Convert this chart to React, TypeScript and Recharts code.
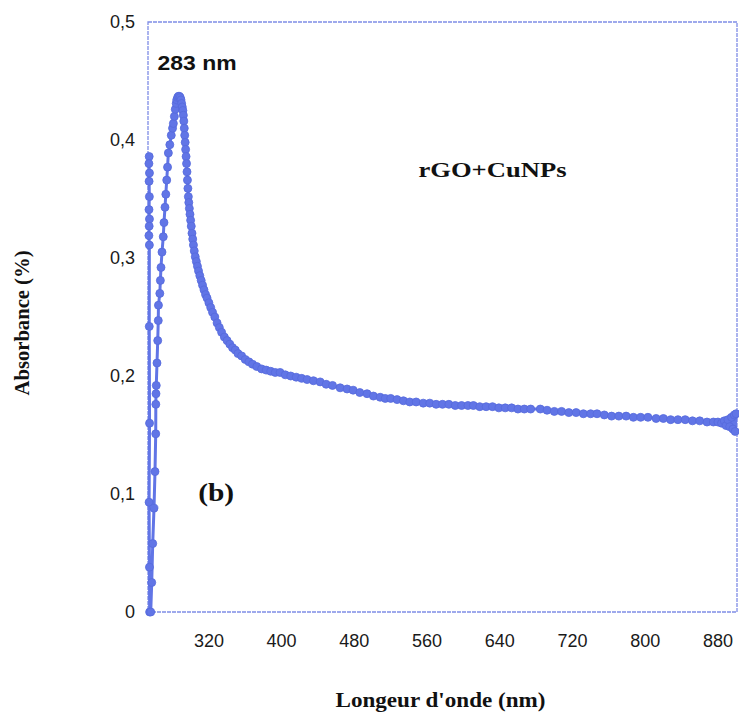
import React from 'react';
import { LineChart, Line, XAxis, YAxis, ReferenceArea, ReferenceDot } from 'recharts';

// Wavelength (nm) and absorbance (strand near axis, rising edge, peak, tail)
const wavelengths = [
  254.3, 254.0, 254.6, 254.2, 254.5, 254.1, 254.6, 254.3, 254.0, 254.5, 254.4, 254.7, 254.2, 254.6, 254.8,
  256.0, 257.1, 258.2, 259.6, 260.7, 261.5, 261.6, 261.8, 262.1, 262.9, 263.7, 264.3, 264.5, 266.0, 266.6,
  267.3, 268.4, 269.8, 270.6, 271.7, 272.6, 273.6, 274.5, 275.4, 277.0, 278.6, 280.0, 280.9, 282.0, 283.0,
  284.0, 284.6, 285.6, 286.5, 287.5, 288.5, 289.3, 290.0, 290.7, 291.4, 291.9, 292.4, 292.9, 293.4, 293.9,
  294.4, 294.9, 295.4, 295.9, 296.4, 296.9, 297.4, 297.9, 298.5, 299.2, 299.9, 300.6, 301.4, 302.2, 303.0,
  303.9, 305.0, 306.2, 307.4, 308.6, 310.0, 311.5, 313.0, 314.6, 316.3, 318.0, 320.0, 322.0, 324.0, 326.5,
  329.0, 331.5, 334.0, 337.0, 340.0, 343.0, 346.0, 349.0, 352.0, 356.0, 360.0, 364.0, 368.0, 372.7, 378.0,
  383.0, 388.0, 393.0, 398.3, 404.0, 410.0, 416.0, 422.0, 428.0, 435.0, 442.4, 449.0, 456.0, 464.4, 472.0,
  478.7, 486.0, 494.0, 501.0, 508.4, 514.0, 520.0, 527.0, 534.0, 541.0, 548.0, 555.8, 563.0, 570.0, 577.0,
  584.0, 591.0, 598.0, 605.0, 611.0, 618.0, 625.0, 632.0, 639.0, 646.0, 653.0, 660.0, 667.0, 674.0, 684.6,
  692.0, 700.0, 708.0, 716.0, 724.0, 732.0, 740.0, 747.0, 755.0, 763.0, 771.0, 779.0, 787.0, 795.0, 803.0,
  812.0, 820.0, 828.0, 836.0, 844.0, 852.0, 860.0, 868.0, 875.0, 880.0, 884.0, 887.0, 889.0, 891.0, 893.0,
  895.0, 896.5, 898.0, 899.0, 900.0,
];

const absorbance = [
  0.386, 0.380, 0.372, 0.365, 0.352, 0.341, 0.333, 0.327, 0.319, 0.311, 0.242, 0.160, 0.093, 0.038, 0.0,
  0.0, 0.025, 0.058, 0.088, 0.119, 0.151, 0.176, 0.185, 0.192, 0.211, 0.230, 0.247, 0.260, 0.270, 0.281,
  0.292, 0.305, 0.318, 0.330, 0.343, 0.354, 0.366, 0.377, 0.389, 0.396, 0.404, 0.410, 0.414, 0.420, 0.426,
  0.431, 0.434, 0.436, 0.437, 0.437, 0.436, 0.434, 0.431, 0.428, 0.425, 0.421, 0.416, 0.410, 0.404, 0.398,
  0.392, 0.386, 0.380, 0.373, 0.366, 0.359, 0.352, 0.347, 0.342, 0.337, 0.332, 0.327, 0.321, 0.316, 0.311,
  0.306, 0.301, 0.297, 0.293, 0.289, 0.285, 0.281, 0.277, 0.273, 0.269, 0.266, 0.262, 0.258, 0.254, 0.250,
  0.245, 0.241, 0.237, 0.233, 0.230, 0.227, 0.224, 0.222, 0.219, 0.217, 0.214, 0.212, 0.210, 0.208, 0.206,
  0.205, 0.204, 0.203, 0.203, 0.201, 0.200, 0.199, 0.198, 0.197, 0.196, 0.195, 0.193, 0.192, 0.190, 0.189,
  0.188, 0.186, 0.185, 0.183, 0.182, 0.181, 0.181, 0.180, 0.179, 0.178, 0.178, 0.177, 0.177, 0.176, 0.176,
  0.176, 0.175, 0.175, 0.175, 0.175, 0.174, 0.174, 0.174, 0.173, 0.173, 0.173, 0.172, 0.172, 0.172, 0.172,
  0.171, 0.170, 0.170, 0.169, 0.169, 0.168, 0.168, 0.168, 0.167, 0.166, 0.166, 0.166, 0.165, 0.165, 0.165,
  0.164, 0.164, 0.163, 0.163, 0.163, 0.162, 0.162, 0.161, 0.161, 0.161, 0.160, 0.162, 0.158, 0.163, 0.157,
  0.165, 0.155, 0.167, 0.153, 0.168,
];

const xTicks = [320, 400, 480, 560, 640, 720, 800, 880];
const yTicks = [0, 0.1, 0.2, 0.3, 0.4, 0.5];
const xDomain = [253, 901];
const yDomain = [0, 0.5];

const annotations = [
  { text: '283 nm', wl: 307, abs: 0.466, family: 'Liberation Sans, Arial, sans-serif', size: 21, length: 79 },
  { text: 'rGO+CuNPs', wl: 632, abs: 0.375, family: 'Liberation Serif, Times New Roman, serif', size: 20, length: 148 },
  { text: '(b)', wl: 328, abs: 0.101, family: 'Liberation Serif, Times New Roman, serif', size: 26, length: 36 },
];

const data = wavelengths.map((wl, i) => ({ wl, abs: absorbance[i] }));

const blue = '#6175e6';
const frame = '#7f8de6';

const fmtY = (v: number) => (v === 0 ? '0' : String(v).replace('.', ','));

export default function App() {
  return (
    <div style={{ position: 'absolute', left: 0, top: 0, width: 739, height: 719, background: '#fff' }}>
      <LineChart width={739} height={719} data={data} margin={{ top: 22, right: 2, left: 0, bottom: 0 }}>
        <XAxis
          type="number"
          dataKey="wl"
          domain={xDomain}
          ticks={xTicks}
          height={107}
          axisLine={false}
          tickLine={false}
          tickSize={6}
          tickMargin={16}
          interval={0}
          tick={{ fontSize: 18, fill: '#1a1a1a', fontFamily: 'Liberation Sans, Arial, sans-serif' }}
          label={{
            content: (props: any) => {
              const vb = props.viewBox;
              return (
                <text
                  x={vb.x + vb.width / 2 - 2}
                  y={vb.y + 95}
                  textAnchor="middle"
                  fontFamily="Liberation Serif, Times New Roman, serif"
                  fontWeight="bold"
                  fontSize={21}
                  fill="#111"
                  textLength={210}
                  lengthAdjust="spacingAndGlyphs"
                >
                  Longeur d'onde (nm)
                </text>
              );
            },
          }}
        />
        <YAxis
          type="number"
          domain={yDomain}
          ticks={yTicks}
          width={148}
          axisLine={false}
          tickLine={false}
          tickSize={6}
          tickMargin={7}
          interval={0}
          tickFormatter={fmtY}
          tick={{ fontSize: 18, fill: '#1a1a1a', fontFamily: 'Liberation Sans, Arial, sans-serif' }}
          label={{
            content: (props: any) => {
              const vb = props.viewBox;
              const cx = vb.x + 22;
              const cy = vb.y + vb.height / 2 + 6;
              return (
                <text
                  x={cx}
                  y={cy}
                  transform={`rotate(-90, ${cx}, ${cy})`}
                  textAnchor="middle"
                  dominantBaseline="central"
                  fontFamily="Liberation Serif, Times New Roman, serif"
                  fontWeight="bold"
                  fontSize={20}
                  fill="#111"
                  textLength={145}
                  lengthAdjust="spacingAndGlyphs"
                >
                  Absorbance (%)
                </text>
              );
            },
          }}
        />
        <ReferenceArea
          x1={xDomain[0]}
          x2={xDomain[1]}
          y1={yDomain[0]}
          y2={yDomain[1]}
          fill="none"
          fillOpacity={0}
          stroke={frame}
          strokeWidth={1.3}
          strokeDasharray="4 1"
        />
        {annotations.map((a) => (
          <ReferenceDot
            key={a.text}
            x={a.wl}
            y={a.abs}
            r={0}
            fill="none"
            stroke="none"
            label={{
              content: (props: any) => {
                const vb = props.viewBox;
                const cx = vb.x + vb.width / 2;
                const cy = vb.y + vb.height / 2;
                return (
                  <text
                    x={cx}
                    y={cy}
                    textAnchor="middle"
                    dominantBaseline="central"
                    fontFamily={a.family}
                    fontWeight="bold"
                    fontSize={a.size}
                    fill="#111"
                    textLength={a.length}
                    lengthAdjust="spacingAndGlyphs"
                  >
                    {a.text}
                  </text>
                );
              },
            }}
          />
        ))}
        <Line
          type="linear"
          dataKey="abs"
          stroke={blue}
          strokeWidth={3}
          dot={{ r: 4, fill: blue, stroke: '#5569dc', strokeWidth: 0.8 }}
          isAnimationActive={false}
        />
      </LineChart>
    </div>
  );
}
